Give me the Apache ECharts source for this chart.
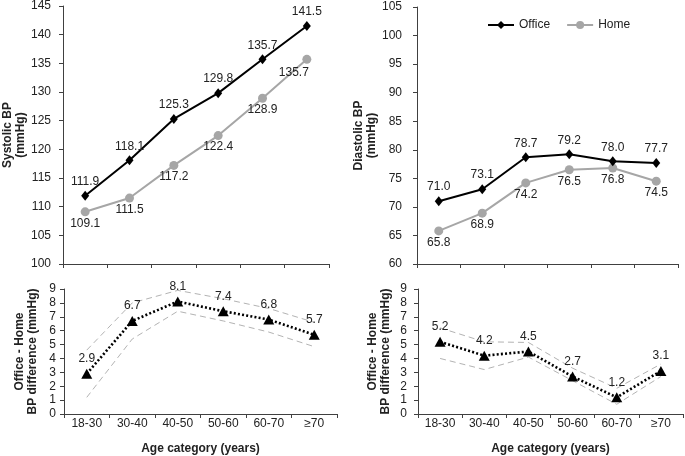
<!DOCTYPE html>
<html><head><meta charset="utf-8">
<script src="https://cdn.jsdelivr.net/npm/echarts@6/dist/echarts.min.js"></script>
<style>html,body{margin:0;padding:0;background:#fff}#c{width:685px;height:456px}</style>
</head><body><div id="c"></div>
<script>
const categories = ['18-30','30-40','40-50','50-60','60-70','≥70'];
const sysOffice = [111.9,118.1,125.3,129.8,135.7,141.5];
const sysHome = [109.1,111.5,117.2,122.4,128.9,135.7];
const diaOffice = [71.0,73.1,78.7,79.2,78.0,77.7];
const diaHome = [65.8,68.9,74.2,76.5,76.8,74.5];
const sysDiff = [2.9,6.7,8.1,7.4,6.8,5.7];
const sysDiffUpper = [4.6,8.0,8.9,8.3,7.6,6.6];
const sysDiffLower = [1.2,5.4,7.4,6.7,5.9,4.85];
const diaDiff = [5.2,4.2,4.5,2.7,1.2,3.1];
const diaDiffUpper = [6.2,5.2,5.15,3.3,1.85,3.6];
const diaDiffLower = [4.0,3.2,4.1,2.4,0.7,2.7];

const FONT = "'Liberation Sans', Arial, sans-serif";
const AX = '#404040';
const TXT = '#222';

function xAx(gi, showLabels){
  return {
    type:'category', gridIndex:gi, data:categories, boundaryGap:true,
    axisLine:{show:true, lineStyle:{color:AX, width:1}},
    axisTick:{show:true, length:4, inside:false, alignWithLabel:false, lineStyle:{color:AX}},
    axisLabel:{show:showLabels, color:TXT, fontSize:12, fontFamily:FONT, margin:4},
    splitLine:{show:false},
    name: showLabels ? 'Age category (years)' : '',
    nameLocation:'middle', nameGap:29,
    nameTextStyle:{color:TXT, fontSize:12, fontWeight:'bold', fontFamily:FONT}
  };
}
function yAx(gi, min, max, interval, name, gap, margin){
  return {
    type:'value', gridIndex:gi, min:min, max:max, interval:interval,
    axisLine:{show:true, lineStyle:{color:AX, width:1}},
    axisTick:{show:true, length:4, lineStyle:{color:AX}},
    axisLabel:{color:TXT, fontSize:12, fontFamily:FONT, margin:margin},
    splitLine:{show:false},
    name:name, nameLocation:'middle', nameRotate:90, nameGap:gap,
    nameTextStyle:{color:TXT, fontSize:12, fontWeight:'bold', fontFamily:FONT, lineHeight:13}
  };
}
const fmt1 = p => Number(p.value).toFixed(1);
const lbl = (pos, dist) => ({show:true, position:pos, distance:dist, color:TXT, fontSize:12, fontFamily:FONT, formatter:fmt1});

function officeSeries(gi, data){
  return {name:'Office', type:'line', xAxisIndex:gi, yAxisIndex:gi, data:data,
    symbol:'diamond', symbolSize:[8,10], showSymbol:true,
    lineStyle:{color:'#000', width:2}, itemStyle:{color:'#000'},
    label:lbl('top',3), z:3};
}
function homeSeries(gi, data, lastOffset){
  const d = data.map((v,i)=> (i===data.length-1 && lastOffset) ? {value:v, label:{offset:lastOffset}} : v);
  return {name:'Home', type:'line', xAxisIndex:gi, yAxisIndex:gi, data:d,
    symbol:'circle', symbolSize:9, showSymbol:true,
    lineStyle:{color:'#a6a6a6', width:2}, itemStyle:{color:'#a6a6a6'},
    label:lbl('bottom',1), z:2};
}
function ciSeries(gi, data){
  return {name:'ci', type:'line', xAxisIndex:gi, yAxisIndex:gi, data:data,
    showSymbol:false, symbol:'none', silent:true,
    lineStyle:{color:'#b3b3b3', width:1, type:[6,4]}, z:1};
}
function diffSeries(gi, data){
  return {name:'diff', type:'line', xAxisIndex:gi, yAxisIndex:gi, data:data,
    symbol:'triangle', symbolSize:[11,10], showSymbol:true,
    lineStyle:{color:'#000', width:2.6, type:[2,2.2]}, itemStyle:{color:'#000'},
    label:lbl('top',4), z:3};
}

const option = {
  animation:false,
  backgroundColor:'#fff',
  textStyle:{fontFamily:FONT},
  legend:{data:['Office','Home'], left:482, top:14, itemWidth:26, itemHeight:10, itemGap:16,
    textStyle:{color:TXT, fontSize:12, fontFamily:FONT}},
  grid:[
    {left:63, top:6, width:266, height:258},
    {left:417, top:7, width:261, height:257},
    {left:64, top:289, width:273, height:127},
    {left:418, top:289, width:265, height:127}
  ],
  xAxis:[xAx(0,false), xAx(1,false), xAx(2,true), xAx(3,true)],
  yAxis:[
    yAx(0,100,145,5,'Systolic BP\n(mmHg)',34,12),
    yAx(1,60,105,5,'Diastolic BP\n(mmHg)',31,15),
    yAx(2,0,9,1,'Office - Home\nBP difference (mmHg)',25,8),
    yAx(3,0,9,1,'Office - Home\nBP difference (mmHg)',26,11)
  ],
  series:[
    officeSeries(0, sysOffice), homeSeries(0, sysHome, [-13,2]),
    officeSeries(1, diaOffice), homeSeries(1, diaHome, null),
    ciSeries(2, sysDiffUpper), ciSeries(2, sysDiffLower), diffSeries(2, sysDiff),
    ciSeries(3, diaDiffUpper), ciSeries(3, diaDiffLower), diffSeries(3, diaDiff)
  ]
};
const chart = echarts.init(document.getElementById('c'), null, {renderer:'canvas'});
chart.setOption(option);
</script></body></html>
